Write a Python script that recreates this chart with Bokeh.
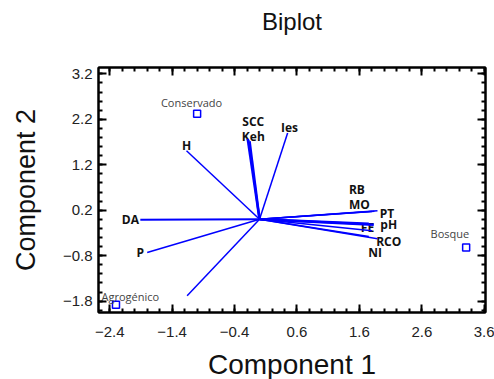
from bokeh.plotting import figure
from bokeh.models import FixedTicker, LinearAxis, Range1d, ColumnDataSource
from bokeh.embed import file_html
from bokeh.resources import INLINE
from bokeh.core.properties import value

# ---- data ----
x_ticks = [-2.4, -1.4, -0.4, 0.6, 1.6, 2.6, 3.6]
y_ticks = [-1.8, -0.8, 0.2, 1.2, 2.2, 3.2]
x_minor = [-2.6, -2.4, -2.2, -2.0, -1.8, -1.6, -1.4, -1.2, -1.0, -0.8, -0.6, -0.4, -0.2, 0.0, 0.2, 0.4,
           0.6, 0.8, 1.0, 1.2, 1.4, 1.6, 1.8, 2.0, 2.2, 2.4, 2.6, 2.8, 3.0, 3.2, 3.4, 3.6]
y_minor = [-2.0, -1.8, -1.6, -1.4, -1.2, -1.0, -0.8, -0.6, -0.4, -0.2, 0.0, 0.2, 0.4, 0.6, 0.8, 1.0,
           1.2, 1.4, 1.6, 1.8, 2.0, 2.2, 2.4, 2.6, 2.8, 3.0, 3.2]

sites = ["Conservado", "Bosque", "Agrogénico"]
site_x = [-1.00, 3.31, -2.30]
site_y = [2.32, -0.62, -1.88]
site_lab_x = [-1.09, 3.05, -2.07]
site_lab_y = [2.56, -0.32, -1.70]

var_names = ["H", "SCC", "Keh", "Ies", "DA", "P", "J", "RB", "MO", "PT", "FE", "pH", "CE", "RCO", "NI"]
var_x = [-1.17, -0.19, -0.16, 0.45, -1.91, -1.80, -1.16, 1.80, 1.84, 1.89, 1.75, 1.83, 1.80, 1.89, 1.75]
var_y = [1.51, 1.77, 1.72, 1.90, -0.01, -0.73, -1.68, 0.17, 0.18, 0.19, -0.10, -0.12, -0.25, -0.43, -0.38]
var_w = [1.5, 2.5, 2.5, 1.5, 2.0, 1.5, 1.5, 1.5, 1.5, 1.5, 2.5, 2.5, 1.5, 1.5, 1.5]

lab_names = ["H", "SCC", "Keh", "Ies", "DA", "P", "RB", "MO", "PT", "pH", "FE", "RCO", "NI"]
lab_x = [-1.17, -0.10, -0.10, 0.48, -2.07, -1.91, 1.56, 1.60, 2.04, 2.07, 1.73, 2.07, 1.85]
lab_y = [1.62, 2.15, 1.82, 2.01, -0.01, -0.73, 0.65, 0.32, 0.12, -0.12, -0.18, -0.49, -0.73]

title_text = "Biplot"

# ---- figure ----
p = figure(frame_width=387, frame_height=245, output_backend="svg", toolbar_location=None,
           x_range=Range1d(-2.58, 3.62), y_range=Range1d(-2.05, 3.34),
           min_border_left=98, min_border_right=9, min_border_top=67, min_border_bottom=67)
p.grid.visible = False
p.outline_line_color = "black"
p.outline_line_width = 2
p.background_fill_color = "white"
p.border_fill_color = "white"

def style_axis(ax, ticks, minor, show_labels=True):
    ax.ticker = FixedTicker(ticks=ticks, minor_ticks=minor)
    ax.axis_line_color = "black"
    ax.axis_line_width = 2
    ax.major_tick_in = 8
    ax.major_tick_out = 0
    ax.minor_tick_in = 4
    ax.minor_tick_out = 0
    ax.major_tick_line_width = 2
    ax.minor_tick_line_width = 2
    ax.major_tick_line_color = "black"
    ax.minor_tick_line_color = "black"
    ax.major_label_text_font = "Liberation Sans"
    ax.major_label_text_font_size = "15px"
    ax.major_label_text_color = "#222222"
    ax.axis_label_text_font = "Liberation Sans"
    ax.axis_label_text_font_style = "normal"
    ax.axis_label_text_color = "#111111"
    if not show_labels:
        ax.major_label_overrides = {t: "" for t in ticks}
        ax.major_label_standoff = 0

style_axis(p.xaxis[0], x_ticks, x_minor)
style_axis(p.yaxis[0], y_ticks, y_minor)
p.xaxis[0].axis_label = "Component 1"
p.xaxis[0].axis_label_text_font_size = "28px"
p.xaxis[0].major_label_standoff = 14
p.xaxis[0].axis_label_standoff = 9
p.yaxis[0].axis_label = "Component 2"
p.yaxis[0].axis_label_text_font_size = "27px"
p.yaxis[0].major_label_standoff = 6
p.yaxis[0].axis_label_standoff = 19

ax_r = LinearAxis()
style_axis(ax_r, y_ticks, y_minor, show_labels=False)
p.add_layout(ax_r, "right")

# top axis carries the chart title as its label
ax_t = LinearAxis()
style_axis(ax_t, x_ticks, x_minor, show_labels=False)
ax_t.axis_label = title_text
ax_t.axis_label_text_font_size = "24px"
ax_t.axis_label_standoff = 33
p.add_layout(ax_t, "above")

# labels of variables
lab_src = ColumnDataSource(dict(x=lab_x, y=lab_y, t=lab_names))
p.text(x="x", y="y", text="t", source=lab_src, text_font=value("Open Sans"),
       text_font_size="12px", text_font_style="bold", text_color="#111111",
       text_align="center", text_baseline="middle")

# vectors
vec_src = ColumnDataSource(dict(x0=[0.0] * len(var_x), y0=[0.0] * len(var_y),
                                x1=var_x, y1=var_y, w=var_w))
p.segment(x0="x0", y0="y0", x1="x1", y1="y1", line_width="w", line_color="#0000ff", source=vec_src)

# sites
site_src = ColumnDataSource(dict(x=site_x, y=site_y))
p.scatter(x="x", y="y", marker="square", size=7, fill_color="white", line_color="#0000ff",
          line_width=1.5, source=site_src)
slab_src = ColumnDataSource(dict(x=site_lab_x, y=site_lab_y, t=sites))
p.text(x="x", y="y", text="t", source=slab_src, text_font=value("Open Sans"),
       text_font_size="11px", text_color="#444444",
       text_align="center", text_baseline="middle")

open("out.html", "w").write(file_html(p, INLINE))
